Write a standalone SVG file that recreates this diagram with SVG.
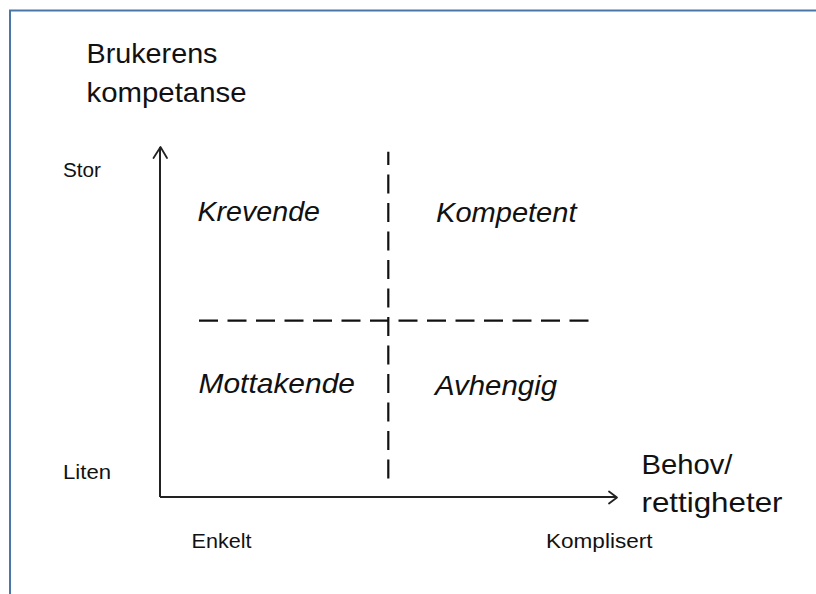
<svg xmlns="http://www.w3.org/2000/svg" width="816" height="594" viewBox="0 0 816 594">
<defs>
<style>
.lbl{font-family:"Liberation Sans",Arial,sans-serif;fill:#111}
.big{font-size:28.5px}
.small{font-size:20px}
.quad{font-size:28.5px;font-style:italic}
.axis{stroke:#222;stroke-width:2;fill:none}
.dash{stroke:#111;stroke-width:2.2;fill:none;stroke-dasharray:19 9.5}
.head{stroke:#222;stroke-width:1.8;fill:none;stroke-linecap:round;stroke-linejoin:round}
</style>
</defs>
<rect width="816" height="594" fill="#ffffff"/>
<g id="frame">
<path d="M10 594 V10.5 H816" fill="none" stroke="#4a77a5" stroke-width="2"/>
</g>
<g id="connectors">
<path class="axis" d="M160 497 V147"/>
<path class="head" d="M153.5 158 L160.5 147 L167 158"/>
<path class="axis" d="M160 497 H616"/>
<path class="head" d="M609 491.5 L617 497.5 L609 503.5"/>
<path class="dash" d="M388.3 151.7 V478.5" style="stroke-dashoffset:5.7"/>
<path class="dash" d="M588.5 320.7 H197"/>
</g>
<g id="y-axis-title">
<text class="lbl big" x="86.5" y="63" textLength="131" lengthAdjust="spacingAndGlyphs">Brukerens</text>
<text class="lbl big" x="86.5" y="101.5" textLength="160" lengthAdjust="spacingAndGlyphs">kompetanse</text>
</g>
<g id="x-axis-title">
<text class="lbl big" x="641.5" y="473.5" textLength="91" lengthAdjust="spacingAndGlyphs">Behov/</text>
<text class="lbl big" x="641.5" y="511.5" textLength="141" lengthAdjust="spacingAndGlyphs">rettigheter</text>
</g>
<g id="y-high"><text class="lbl small" x="63" y="176.5" textLength="38" lengthAdjust="spacingAndGlyphs">Stor</text></g>
<g id="y-low"><text class="lbl small" x="63" y="478.5" textLength="48" lengthAdjust="spacingAndGlyphs">Liten</text></g>
<g id="x-low"><text class="lbl small" x="191.5" y="547.5" textLength="60" lengthAdjust="spacingAndGlyphs">Enkelt</text></g>
<g id="x-high"><text class="lbl small" x="546" y="547.5" textLength="106.5" lengthAdjust="spacingAndGlyphs">Komplisert</text></g>
<g id="q-krevende"><text class="lbl quad" x="197.5" y="220.5" textLength="122.5" lengthAdjust="spacingAndGlyphs">Krevende</text></g>
<g id="q-kompetent"><text class="lbl quad" x="436" y="221.5" textLength="140.5" lengthAdjust="spacingAndGlyphs">Kompetent</text></g>
<g id="q-mottakende"><text class="lbl quad" x="198.5" y="392.5" textLength="156.5" lengthAdjust="spacingAndGlyphs">Mottakende</text></g>
<g id="q-avhengig"><text class="lbl quad" x="435" y="395" textLength="122" lengthAdjust="spacingAndGlyphs">Avhengig</text></g>
</svg>
